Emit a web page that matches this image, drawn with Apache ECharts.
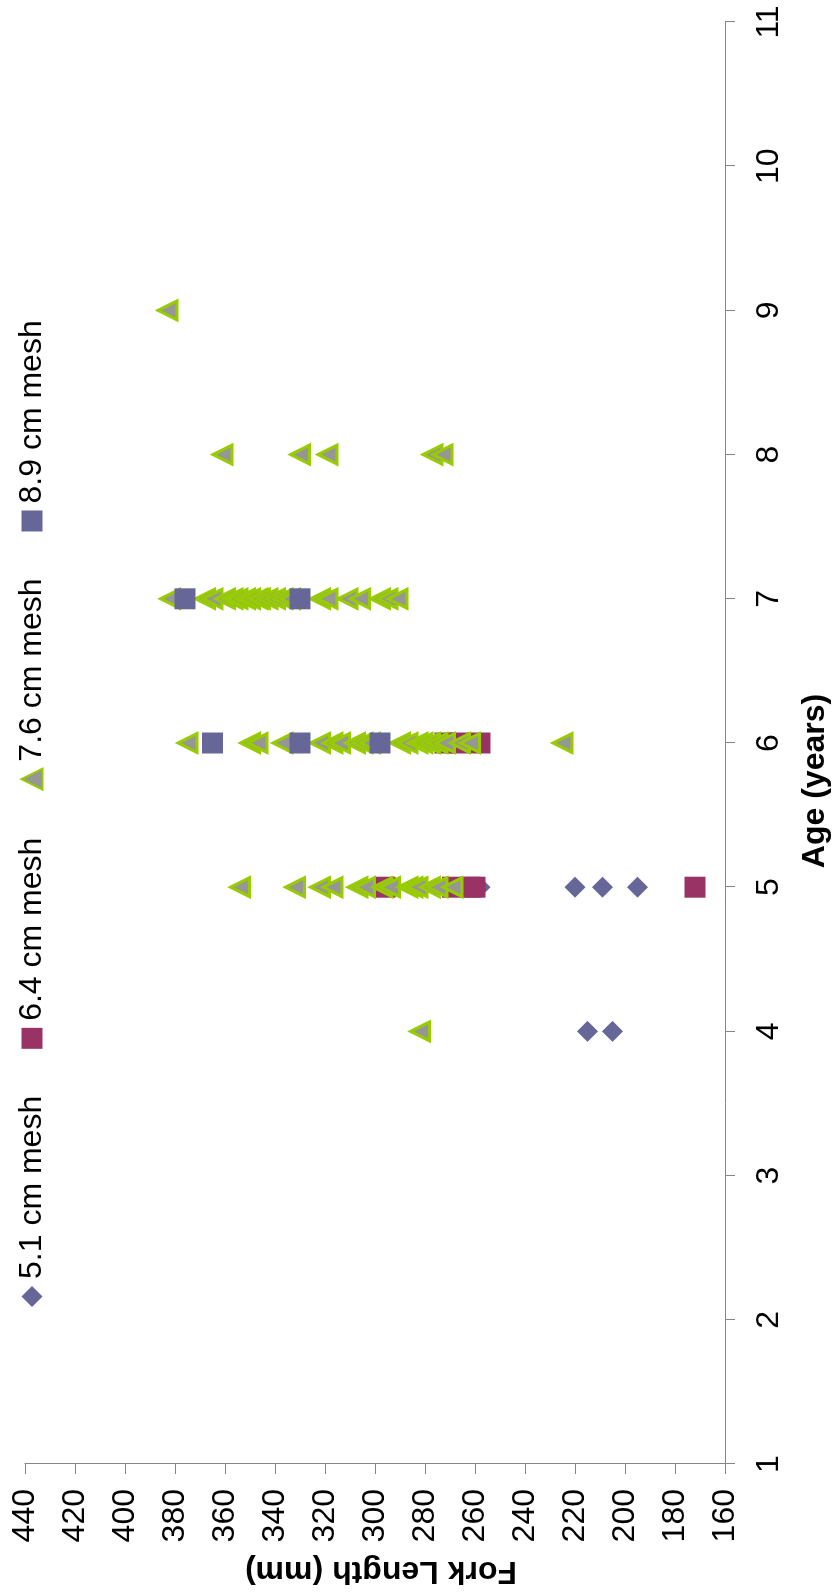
<!DOCTYPE html>
<html>
<head>
<meta charset="utf-8">
<script src="https://cdn.jsdelivr.net/npm/echarts@6/dist/echarts.min.js"></script>
<style>
  html, body { margin: 0; padding: 0; background: #fff; width: 833px; height: 1592px; overflow: hidden; }
  /* The chart is laid out landscape and turned a quarter turn counter-clockwise onto the portrait page */
  #chart {
    position: absolute; left: 0; top: 0;
    width: 1592px; height: 833px;
    transform-origin: 0 0;
    transform: translateY(1592px) rotate(-90deg);
  }
</style>
</head>
<body>
<div id="chart"></div>
<script>
// Age (years) and fork length (mm) of fish caught, by gill-net mesh size
const mesh51 = [
  [4, 215], [4, 205],
  [5, 258], [5, 220], [5, 209], [5, 195]
];
const mesh64 = [
  [5, 296], [5, 269], [5, 262], [5, 260], [5, 172],
  [6, 272], [6, 266], [6, 258]
];
const mesh76 = [
  [4, 282],
  [5, 354], [5, 332], [5, 322], [5, 317], [5, 307], [5, 304], [5, 297], [5, 294],
  [5, 287], [5, 285], [5, 283], [5, 278], [5, 275], [5, 269],
  [6, 375], [6, 350], [6, 347], [6, 337], [6, 322], [6, 317], [6, 314], [6, 308],
  [6, 305], [6, 302], [6, 290], [6, 287], [6, 283], [6, 281], [6, 278], [6, 275],
  [6, 272], [6, 266], [6, 262], [6, 225],
  [7, 382], [7, 368], [7, 365], [7, 360], [7, 357], [7, 355], [7, 352], [7, 350],
  [7, 347], [7, 346], [7, 343], [7, 340], [7, 337], [7, 334], [7, 322], [7, 319],
  [7, 311], [7, 306], [7, 298], [7, 295], [7, 291],
  [8, 361], [8, 330], [8, 319], [8, 277], [8, 273],
  [9, 383]
];
const mesh89 = [
  [6, 365], [6, 330], [6, 298],
  [7, 376], [7, 330]
];

const seriesNames = ['5.1 cm mesh', '6.4 cm mesh', '7.6 cm mesh', '8.9 cm mesh'];
const ageRange = { min: 1, max: 11, step: 1 };
const lengthRange = { min: 160, max: 440, step: 20 };

const FONT = '"Liberation Sans", Arial, Helvetica, sans-serif';
const AXIS_GREY = '#868686';

const chart = echarts.init(document.getElementById('chart'), null, { renderer: 'canvas' });

chart.setOption({
  animation: false,
  backgroundColor: '#ffffff',
  textStyle: { fontFamily: FONT },
  grid: { left: 128, right: 22, top: 25, bottom: 108, containLabel: false },
  legend: {
    data: seriesNames,
    orient: 'horizontal',
    left: 285,
    top: 16,
    padding: 0,
    itemWidth: 21,
    itemHeight: 21,
    itemGap: 47,
    selectedMode: false,
    textStyle: { fontSize: 32, color: '#000', fontFamily: FONT, padding: [0, 0, 0, 2] }
  },
  xAxis: {
    type: 'value',
    min: ageRange.min,
    max: ageRange.max,
    interval: ageRange.step,
    axisLine: { show: true, onZero: false, lineStyle: { color: AXIS_GREY, width: 1 } },
    axisTick: { show: true, inside: false, length: 10, lineStyle: { color: AXIS_GREY } },
    splitLine: { show: false },
    axisLabel: { fontSize: 32, color: '#000', margin: 28, fontFamily: FONT }
  },
  yAxis: {
    type: 'value',
    min: lengthRange.min,
    max: lengthRange.max,
    interval: lengthRange.step,
    axisLine: { show: true, onZero: false, lineStyle: { color: AXIS_GREY, width: 1 } },
    axisTick: { show: true, inside: false, length: 10, lineStyle: { color: AXIS_GREY } },
    splitLine: { show: false },
    axisLabel: { fontSize: 32, color: '#000', margin: 25, fontFamily: FONT }
  },
  graphic: [
    {
      type: 'text', x: 21, y: 381, rotation: Math.PI / 2, silent: true,
      style: {
        text: 'Fork Length (mm)', fill: '#000',
        font: 'bold 32px ' + FONT,
        textAlign: 'center', textVerticalAlign: 'middle',
        align: 'center', verticalAlign: 'middle'
      }
    },
    {
      type: 'text', x: 811, y: 815, silent: true,
      style: {
        text: 'Age (years)', fill: '#000',
        font: 'bold 32px ' + FONT,
        textAlign: 'center', textVerticalAlign: 'middle',
        align: 'center', verticalAlign: 'middle'
      }
    }
  ],
  series: [
    {
      name: seriesNames[0], type: 'scatter', symbol: 'diamond', symbolSize: 21,
      itemStyle: { color: '#666699', opacity: 1 }, emphasis: { disabled: true }, data: mesh51
    },
    {
      name: seriesNames[1], type: 'scatter', symbol: 'rect', symbolSize: 21,
      itemStyle: { color: '#993366', opacity: 1 }, emphasis: { disabled: true }, data: mesh64
    },
    {
      name: seriesNames[2], type: 'scatter', symbol: 'triangle', symbolSize: 19,
      itemStyle: { color: '#969696', borderColor: '#99CC00', borderWidth: 3, opacity: 1 },
      emphasis: { disabled: true }, data: mesh76
    },
    {
      name: seriesNames[3], type: 'scatter', symbol: 'rect', symbolSize: 21,
      itemStyle: { color: '#666699', opacity: 1 }, emphasis: { disabled: true }, data: mesh89
    }
  ]
});
</script>
</body>
</html>
